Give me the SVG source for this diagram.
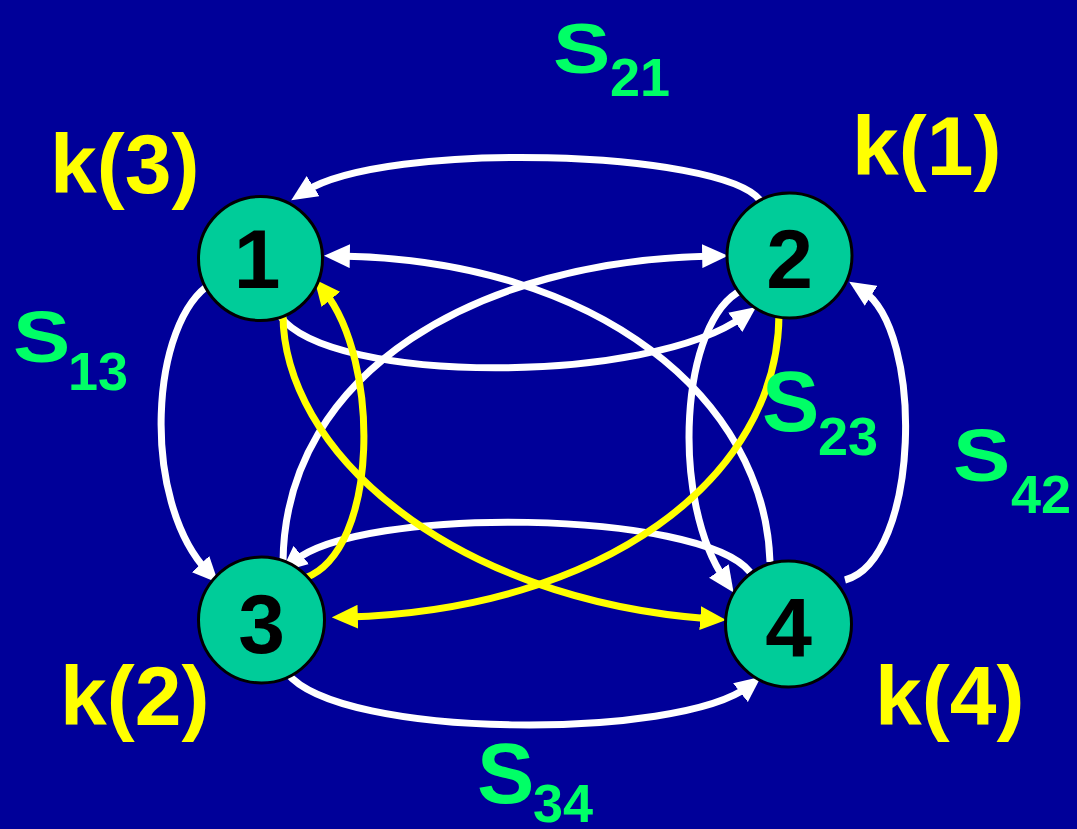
<svg xmlns="http://www.w3.org/2000/svg" width="1077" height="829" viewBox="0 0 1077 829">
<style>
.w{fill:none;stroke:#FFFFFF;stroke-width:7}
.y{fill:none;stroke:#FFFF00;stroke-width:7}
.node circle{fill:#00CC99;stroke:#000000;stroke-width:3}
.node text{font-family:"Liberation Sans",Arial,sans-serif;font-weight:bold;font-size:84px;fill:#000000;text-anchor:middle}
.k{font-family:"Liberation Sans",Arial,sans-serif;font-weight:bold;font-size:84px;fill:#FFFF00}
.s{font-family:"Liberation Sans",Arial,sans-serif;font-weight:bold;font-size:86px;fill:#00FF66}
.sub{font-family:"Liberation Sans",Arial,sans-serif;font-weight:bold;font-size:54px;fill:#00FF66}
</style>
<defs>
<marker id="aw" markerUnits="userSpaceOnUse" markerWidth="26" markerHeight="24" viewBox="0 0 24 22" refX="10" refY="11" orient="auto"><path d="M0,0 L24,11 L0,22 z" fill="#FFFFFF"/></marker>
<marker id="ay" markerUnits="userSpaceOnUse" markerWidth="26" markerHeight="24" viewBox="0 0 24 22" refX="10" refY="11" orient="auto"><path d="M0,0 L24,11 L0,22 z" fill="#FFFF00"/></marker>
</defs>
<rect x="0" y="0" width="1077" height="829" fill="#000099"/>
<g id="connectors">
<path class="w" d="M760,200 C720,150 385,140 304,192" marker-end="url(#aw)"/>
<path class="w" d="M770,562 C765,400 600,260 339,256" marker-end="url(#aw)"/>
<path class="w" d="M283,562 C285,370 480,260 713,256" marker-end="url(#aw)"/>
<path class="w" d="M280,316 C330,385 650,385 744,316" marker-end="url(#aw)"/>
<path class="w" d="M742,290 C680,320 670,500 725,580" marker-end="url(#aw)"/>
<path class="w" d="M845,580 C920,560 925,330 862,290" marker-end="url(#aw)"/>
<path class="w" d="M212,283 C150,320 140,500 208,572" marker-end="url(#aw)"/>
<path class="w" d="M287,673 C340,740 680,740 749,686" marker-end="url(#aw)"/>
<path class="w" d="M750,572 C700,510 360,505 293,562" marker-end="url(#aw)"/>
<path class="y" d="M283,310 C280,450 450,600 711,619" marker-end="url(#ay)"/>
<path class="y" d="M305,578 C380,550 380,360 324,291" marker-end="url(#ay)"/>
<path class="y" d="M779,312 C780,480 600,610 347,617" marker-end="url(#ay)"/>
</g>
<g id="node1" class="node"><circle cx="260.5" cy="258.5" r="62"/><text x="257" y="288">1</text></g>
<g id="node2" class="node"><circle cx="789.5" cy="255.5" r="62.5"/><text x="789.5" y="288">2</text></g>
<g id="node3" class="node"><circle cx="261.5" cy="620" r="63"/><text x="261.5" y="653">3</text></g>
<g id="node4" class="node"><circle cx="788.5" cy="624" r="63"/><text x="788.5" y="657">4</text></g>
<g id="labels">
<text class="k" x="50" y="193">k(3)</text>
<text class="k" x="852" y="175">k(1)</text>
<text class="k" x="60" y="725">k(2)</text>
<text class="k" x="875" y="725">k(4)</text>
<text class="s" transform="translate(553,73) scale(1,0.82)">S</text>
<text class="sub" x="610" y="96">21</text>
<text class="s" transform="translate(13,362) scale(1,0.85)">S</text>
<text class="sub" x="68" y="390">13</text>
<text class="s" x="762" y="431">S</text>
<text class="sub" x="818" y="455">23</text>
<text class="s" transform="translate(953,481) scale(1,0.86)">S</text>
<text class="sub" x="1011" y="513">42</text>
<text class="s" x="477" y="803">S</text>
<text class="sub" x="533" y="822">34</text>
</g>
</svg>
